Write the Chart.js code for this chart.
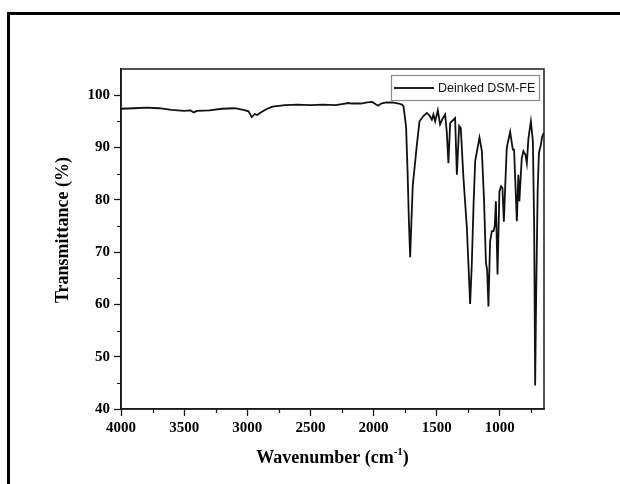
<!DOCTYPE html>
<html lang="en">
<head>
  <meta charset="UTF-8">
  <title>FTIR spectrum</title>
  <style>
    body { margin: 0; background: #fff; }
    #wrap { position: relative; width: 620px; height: 484px; overflow: hidden; }
    #frame { position: absolute; left: 7px; top: 12px; width: 640px; height: 520px; border: 3px solid #000; pointer-events: none; }
    canvas { position: absolute; left: 0; top: 0; }
  </style>
</head>
<body>
  <div id="wrap">
    <canvas id="ftirChart" width="620" height="484"></canvas>
    <div id="frame"></div>
  </div>
  <script src="https://cdn.jsdelivr.net/npm/chart.js"></script>
  <script>
    // spectrum (wavenumber in cm-1, transmittance in %)
    const wavenumbers = [
      4000, 3900, 3800, 3700, 3600, 3500, 3450, 3425, 3400, 3300, 3200, 3100, 3030, 2990, 2965, 2940, 2920, 2900,
      2850, 2800, 2700, 2600, 2500, 2400, 2300, 2250, 2200, 2170, 2100, 2050, 2010, 1980, 1963, 1940, 1900, 1852,
      1800, 1776, 1763, 1750, 1742, 1730, 1720, 1710, 1700, 1689, 1678, 1657, 1636, 1605, 1578, 1557, 1538, 1526,
      1512, 1491, 1473, 1451, 1433, 1420, 1407, 1393, 1367, 1354, 1340, 1322, 1309, 1288, 1261, 1235, 1222, 1208,
      1195, 1161, 1142, 1125, 1110, 1100, 1090, 1077, 1063, 1050, 1040, 1031, 1018, 1003, 990, 979, 968, 958,
      945, 918, 897, 887, 865, 853, 845, 826, 813, 797, 786, 773, 754, 738, 728, 720, 712, 700, 690, 675, 665, 652
    ]
    const transmittance = [
      97.4, 97.5, 97.6, 97.5, 97.2, 97.0, 97.1, 96.7, 97.0, 97.1, 97.4, 97.5, 97.2, 96.9, 95.8, 96.4, 96.2, 96.6,
      97.3, 97.8, 98.1, 98.2, 98.1, 98.2, 98.1, 98.3, 98.5, 98.4, 98.4, 98.6, 98.7, 98.2, 98.0, 98.4, 98.6, 98.6,
      98.4, 98.2, 97.9, 95.5, 93.8, 85.0, 76.0, 69.0, 76.0, 82.9, 85.4, 90.5, 95.0, 96.0, 96.6, 96.1, 95.3, 96.3,
      95.0, 97.1, 94.4, 95.6, 96.3, 93.0, 87.0, 94.7, 95.3, 95.6, 84.8, 94.1, 93.7, 84.2, 74.7, 60.1, 67.6, 79.0,
      87.4, 91.9, 89.3, 80.0, 68.0, 66.5, 59.6, 72.0, 74.0, 74.0, 75.0, 79.7, 65.7, 81.6, 82.6, 82.3, 75.8, 82.0,
      89.9, 93.0, 89.6, 89.6, 75.9, 84.8, 79.7, 88.0, 89.3, 88.6, 87.0, 91.8, 95.0, 91.2, 75.0, 44.5, 62.0, 82.0,
      89.0, 90.5, 92.0, 92.8
    ]
    const seriesName = 'Deinked DSM-FE'
    const xTicks = [4000, 3500, 3000, 2500, 2000, 1500, 1000]
    const xMinorTicks = [3750, 3250, 2750, 2250, 1750, 1250, 750]
    const yTicks = [40, 50, 60, 70, 80, 90, 100]
    const yMinorTicks = [45, 55, 65, 75, 85, 95]

    const serif = '"Liberation Serif", "Times New Roman", serif'
    const axisColor = '#1a1a1a'

    const points = wavenumbers.map((w, i) => ({ x: w, y: transmittance[i] }))

    const decorPlugin = {
      id: 'decor',
      afterDraw(chart) {
        const ctx = chart.ctx
        const area = chart.chartArea
        const xs = chart.scales.x
        const ys = chart.scales.y
        ctx.save()

        // box around the plot
        ctx.strokeStyle = axisColor
        ctx.lineWidth = 1.5
        ctx.strokeRect(area.left, area.top, area.right - area.left, area.bottom - area.top)

        // minor ticks
        ctx.lineWidth = 1.2
        ctx.beginPath()
        xMinorTicks.forEach(v => {
          const px = Math.round(xs.getPixelForValue(v)) + 0.5
          ctx.moveTo(px, area.bottom)
          ctx.lineTo(px, area.bottom + 4)
        })
        yMinorTicks.forEach(v => {
          const py = Math.round(ys.getPixelForValue(v)) + 0.5
          ctx.moveTo(area.left, py)
          ctx.lineTo(area.left - 4, py)
        })
        ctx.stroke()

        // legend box
        const boxW = 148, boxH = 25
        const bx = area.right - 5 - boxW
        const by = area.top + 6
        ctx.strokeStyle = '#8c8c8c'
        ctx.lineWidth = 1.2
        ctx.strokeRect(bx + 0.5, by + 0.5, boxW, boxH)
        ctx.strokeStyle = '#222'
        ctx.lineWidth = 1.8
        ctx.beginPath()
        ctx.moveTo(bx + 3, by + boxH / 2 + 0.5)
        ctx.lineTo(bx + 43, by + boxH / 2 + 0.5)
        ctx.stroke()
        ctx.fillStyle = '#111'
        ctx.font = '12.5px "Liberation Sans", Arial, sans-serif'
        ctx.textBaseline = 'middle'
        ctx.textAlign = 'left'
        ctx.fillText(seriesName, bx + 47, by + boxH / 2 + 1)

        // axis titles
        ctx.fillStyle = '#000'
        const big = 'bold 18px ' + serif
        const small = 'bold 11px ' + serif
        ctx.font = big
        ctx.textBaseline = 'middle'
        const xMain = 'Wavenumber (cm'
        const sup = '-1'
        const close = ')'
        const wMain = ctx.measureText(xMain).width
        const wClose = ctx.measureText(close).width
        ctx.font = small
        const wSup = ctx.measureText(sup).width
        let tx = (area.left + area.right) / 2 - (wMain + wSup + wClose) / 2
        const ty = 458
        ctx.font = big
        ctx.fillText(xMain, tx, ty)
        tx += wMain
        ctx.font = small
        ctx.fillText(sup, tx, ty - 6)
        tx += wSup
        ctx.font = big
        ctx.fillText(close, tx, ty)

        ctx.translate(63, (area.top + area.bottom) / 2 - 9)
        ctx.rotate(-Math.PI / 2)
        ctx.textAlign = 'center'
        ctx.fillText('Transmittance (%)', 0, 0)
        ctx.restore()
      }
    }

    new Chart(document.getElementById('ftirChart'), {
      type: 'line',
      data: {
        datasets: [{
          label: seriesName,
          data: points,
          borderColor: '#111',
          borderWidth: 1.8,
          pointRadius: 0,
          tension: 0,
          fill: false
        }]
      },
      options: {
        responsive: false,
        animation: false,
        layout: { padding: { left: 0, top: 69, right: 76, bottom: 0 } },
        plugins: { legend: { display: false }, tooltip: { enabled: false } },
        scales: {
          x: {
            type: 'linear',
            reverse: true,
            min: 650,
            max: 4000,
            afterBuildTicks: scale => { scale.ticks = xTicks.map(v => ({ value: v })) },
            afterFit: scale => { scale.height = 75 },
            grid: { drawOnChartArea: false, tickLength: 7, tickWidth: 1.3, tickColor: axisColor },
            border: { color: axisColor, width: 1.5 },
            ticks: {
              color: '#000', padding: 3, maxRotation: 0,
              callback: v => String(v),
              font: { family: serif, size: 15, weight: 'bold' }
            }
          },
          y: {
            min: 40,
            max: 105,
            afterBuildTicks: scale => { scale.ticks = yTicks.map(v => ({ value: v })) },
            afterFit: scale => { scale.width = 121 },
            grid: { drawOnChartArea: false, tickLength: 7, tickWidth: 1.3, tickColor: axisColor },
            border: { color: axisColor, width: 1.5 },
            ticks: {
              color: '#000', padding: 4,
              callback: v => String(v),
              font: { family: serif, size: 15, weight: 'bold' }
            }
          }
        }
      },
      plugins: [decorPlugin]
    })
  </script>
</body>
</html>
